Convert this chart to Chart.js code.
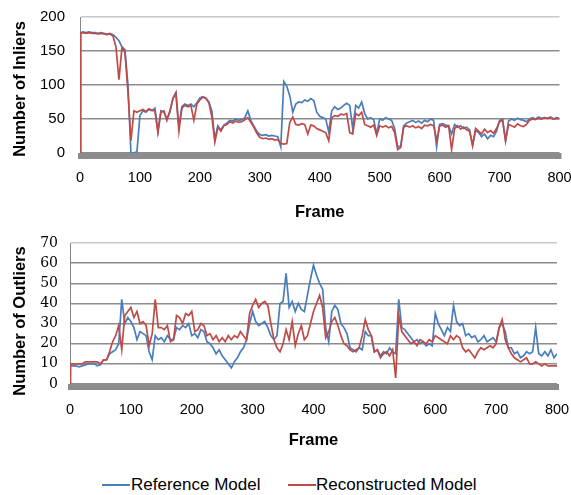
<!DOCTYPE html>
<html>
<head>
<meta charset="utf-8">
<script src="https://cdn.jsdelivr.net/npm/chart.js@4.4.1/dist/chart.umd.min.js"></script>
<style>
  body { margin: 0; background: #fff; overflow: hidden; }
  #wrap { position: relative; width: 571px; height: 495px; }
  .box { position: absolute; left: 0; width: 571px; height: 230px; }
  .key { position: absolute; top: 475px; height: 20px; font: 17px 'Liberation Sans', Arial, sans-serif; line-height: 20px; color: #000; white-space: nowrap; }
  .key i { position: absolute; top: 9px; width: 28px; height: 2px; }
</style>
</head>
<body>
<div id="wrap">
  <div class="box" style="top:0"><canvas id="inliers"></canvas></div>
  <div class="box" style="top:230px"><canvas id="outliers"></canvas></div>
  <div class="key" style="left:102px"><i style="left:0;background:#4a7ebb"></i><span style="margin-left:29px">Reference Model</span></div>
  <div class="key" style="left:288px"><i style="left:0;background:#be4b48"></i><span style="margin-left:28px">Reconstructed Model</span></div>
</div>
<script>
// frame numbers: 0, 1, then every 5th frame
const frames = [0, 1];
for (let f = 5; f <= 800; f += 5) frames.push(f);

const inlierRef = [0, 177,
  178,177,178,177,177,176,177,176,175,176,
  174,170,165,156,152,100,0,0,2,55,
  62,60,64,62,66,32,62,60,50,60,
  80,89,40,68,72,70,72,68,74,81,
  83,81,75,62,20,40,34,41,44,48,
  47,50,48,49,52,62,48,40,32,27,
  26,27,25,26,25,24,9,105,98,84,
  60,72,75,74,78,76,80,77,60,54,
  52,50,31,62,68,64,66,70,73,70,
  36,70,66,75,58,50,52,49,28,50,
  48,52,50,48,36,9,10,40,44,46,
  48,45,47,44,48,46,50,48,9,42,
  43,41,40,28,42,38,40,36,38,34,
  11,33,30,24,28,21,26,24,32,48,
  50,18,47,50,48,51,49,48,46,50,
  52,50,53,51,52,51,53,50,52,51];

const inlierRec = [0, 176,
  177,176,177,176,176,175,176,175,174,175,
  172,156,108,155,148,90,18,62,60,62,
  64,61,65,63,62,30,60,62,48,62,
  80,88,32,66,70,68,70,48,72,78,
  82,80,74,53,16,38,32,40,42,46,
  44,47,45,46,49,52,45,38,29,23,
  21,22,20,21,19,20,14,13,14,45,
  53,42,41,43,42,28,41,40,36,34,
  32,30,18,52,55,54,57,56,58,30,
  28,58,55,60,42,40,38,41,26,40,
  38,40,37,39,30,5,8,38,40,38,
  40,37,39,36,41,40,42,40,18,40,
  41,38,40,5,36,40,35,38,34,32,
  11,36,32,28,35,30,33,29,36,46,
  48,18,42,40,38,43,40,39,42,48,
  50,49,51,50,52,51,52,50,51,50];

const outlierRef = [9, 9,
  9,9,8.5,9,9.5,10,10,10,9,9.5,
  12,12,15,16,17,20,42,30,33,31,
  28,22,26,25,24,16,12,24,22,23,
  21,24,22,22,28,27,29,28,30,24,
  25,23,27,26,21,20,18,15,17,14,
  12,10,8,11,13,16,18,22,30,36,
  31,29,30,31,28,24,22,24,40,41,
  55,38,41,36,40,37,36,44,52,59,
  54,50,47,28,21,36,39,37,30,28,
  25,18,17,16,18,17,26,24,24,16,
  17,14,16,15,18,16,15,42,28,27,
  25,23,21,22,20,21,19,20,19,35,
  30,27,24,28,26,39,31,29,30,24,
  25,23,24,21,22,24,21,22,23,21,
  28,30,26,18,18,15,16,13,14,16,
  15,16,28,15,14,16,14,17,13,15];

const outlierRec = [0, 10,
  10,10,10,10,11,11,11,11,11,10,
  12,12,16,21,24,29,17,34,36,38,
  33,36,30,31,29,19,25,42,28,28,
  27,29,21,22,34,33,30,35,34,36,
  26,27,30,29,24,25,22,24,21,23,
  21,24,22,24,23,26,24,22,35,39,
  42,38,40,41,39,30,22,18,16,20,
  27,22,31,19,25,29,22,24,30,36,
  40,44,38,23,26,31,33,29,24,20,
  19,17,16,17,18,24,32,27,24,16,
  17,13,15,16,14,17,3,34,26,24,
  22,20,21,19,22,21,20,22,21,24,
  23,22,21,20,24,22,24,23,18,16,
  17,15,13,16,18,17,18,19,18,20,
  28,32,22,18,15,13,12,11,12,13,
  10,10,11,10,9,10,9,9,9,9];

const seriesNames = ['Reference Model', 'Reconstructed Model'];
const seriesColors = ['#4a7ebb', '#be4b48'];

const sans = "'Liberation Sans', Arial, sans-serif";

// grey floor under the plot, like the excel original
const floorBand = {
  id: 'floorBand',
  beforeDatasetsDraw(chart) {
    const a = chart.chartArea;
    const ctx = chart.ctx;
    ctx.save();
    ctx.fillStyle = '#8c8c8c';
    ctx.fillRect(a.left - 2, a.bottom, a.right - a.left + 4, 6);
    ctx.restore();
  }
};

// y title, placed a bit lower than the axis middle as in the original
const sideTitle = {
  id: 'sideTitle',
  afterDraw(chart, args, opts) {
    const ctx = chart.ctx;
    ctx.save();
    ctx.translate(opts.x, opts.y);
    ctx.rotate(-Math.PI / 2);
    ctx.font = 'bold 16.5px ' + sans;
    ctx.fillStyle = '#000';
    ctx.textAlign = 'center';
    ctx.textBaseline = 'middle';
    ctx.fillText(opts.text, 0, 0);
    ctx.restore();
  }
};

function points(vals) {
  return frames.map((f, i) => ({x: f, y: vals[i]}));
}

function makeChart(id, ref, rec, o) {
  new Chart(document.getElementById(id), {
    type: 'line',
    data: {
      datasets: [
        {label: seriesNames[0], data: points(ref), borderColor: seriesColors[0], order: 1},
        {label: seriesNames[1], data: points(rec), borderColor: seriesColors[1], order: 0}
      ]
    },
    options: {
      responsive: true,
      maintainAspectRatio: false,
      animation: false,
      events: [],
      layout: {autoPadding: false, padding: o.padding},
      elements: {
        point: {radius: 0},
        line: {borderWidth: 1.7, tension: 0}
      },
      scales: {
        x: {
          type: 'linear',
          min: 0,
          max: 800,
          afterFit: s => { s.height = o.xHeight; s.paddingLeft = 0; s.paddingRight = 0; },
          grid: {display: false, drawTicks: false},
          border: {display: false},
          ticks: {stepSize: 100, color: '#000', padding: o.xPad, maxRotation: 0, autoSkip: false, font: {family: sans, size: 14.5}},
          title: {display: true, text: 'Frame', color: '#000', padding: {bottom: o.titlePad}, font: {family: sans, size: 16.5, weight: 'bold'}}
        },
        y: {
          min: 0,
          max: o.yMax,
          afterFit: s => { s.width = o.yWidth; s.paddingTop = 0; s.paddingBottom = 0; },
          grid: {
            drawTicks: false,
            lineWidth: 1.4,
            color: c => c.tick && c.tick.value === o.yMax ? '#c8c8c8' : '#8c8c8c'
          },
          border: {color: '#868686', width: 1},
          ticks: {stepSize: o.yStep, color: '#000', padding: o.yPad, autoSkip: false, font: o.yFont}
        }
      },
      plugins: {
        legend: {display: false},
        tooltip: {enabled: false},
        sideTitle: {text: o.yTitle, x: 20, y: o.yTitleAt}
      }
    },
    plugins: [floorBand, sideTitle]
  });
}

makeChart('inliers', inlierRef, inlierRec, {
  padding: {top: 17, right: 11.5, bottom: 0, left: 0},
  xHeight: 77, xPad: 16, titlePad: 8,
  yMax: 200, yStep: 50, yWidth: 80, yPad: 15,
  yFont: {family: sans, size: 15},
  yTitle: 'Number of Inliers', yTitleAt: 89
});

makeChart('outliers', outlierRef, outlierRec, {
  padding: {top: 13, right: 14, bottom: 0, left: 0},
  xHeight: 76, xPad: 17, titlePad: 10,
  yMax: 70, yStep: 10, yWidth: 70, yPad: 12,
  yFont: {family: "'DejaVu Serif', serif", size: 14},
  yTitle: 'Number of Outliers', yTitleAt: 91
});
</script>
</body>
</html>
